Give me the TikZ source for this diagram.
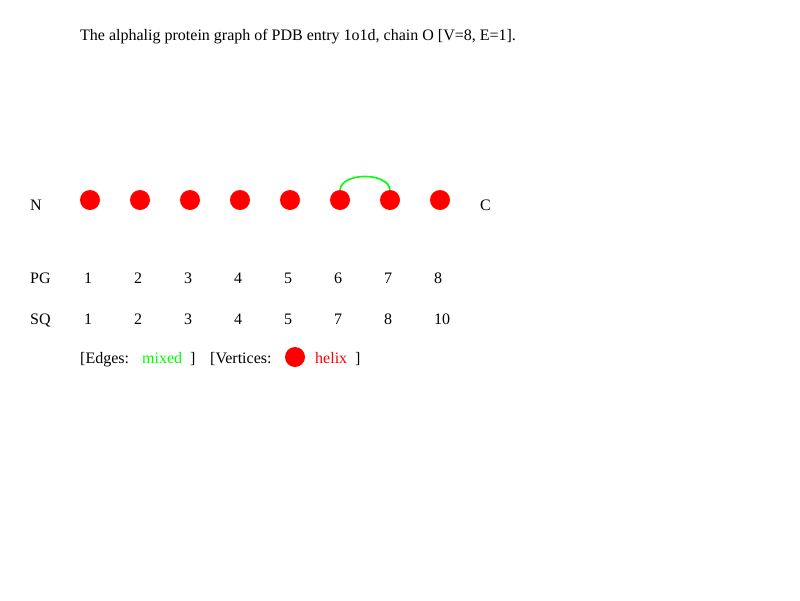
\documentclass[tikz,border=0pt]{standalone}
\usepackage{fontspec}
\setmainfont{Liberation Serif}
\begin{document}
\begin{tikzpicture}[x=1pt,y=-1pt,
  lbl/.style={anchor=base west,inner sep=0pt,font=\fontsize{16}{18}\selectfont},
  vert/.style={circle,fill=red,draw=none,minimum size=20pt,inner sep=0pt},
  edge/.style={draw={rgb,255:red,0;green,255;blue,0},line width=1.6pt}]
\useasboundingbox (0,0) rectangle (800,600);
\definecolor{grn}{RGB}{0,255,0}
\node[lbl] (title) at (80,40) {The alphalig protein graph of PDB entry 1o1d, chain O [V=8, E=1].};
\node[lbl] (N) at (30,210) {N};
\node[lbl] (C) at (480,210) {C};
\foreach \i in {1,...,8} {
  \node[vert] (v\i) at ({90+50*(\i-1)},200) {};
}
\draw[edge] (v6.north) .. controls (342,172) and (388,172) .. (v7.north);
\node[lbl] (PG) at (30,283) {PG};
\node[lbl] (SQ) at (30,324) {SQ};
\foreach \i/\s in {1/1,2/2,3/3,4/4,5/5,6/7,7/8,8/10} {
  \node[lbl] (pg\i) at ({84+50*(\i-1)},283) {\i};
  \node[lbl] (sq\i) at ({84+50*(\i-1)},324) {\s};
}
\node[lbl] (le1) at (80,363) {[Edges:};
\node[lbl,text=grn] (le2) at (142,363) {mixed};
\node[lbl] (le3) at (190,363) {]};
\node[lbl] (lv1) at (210,363) {[Vertices:};
\node[vert] (lvc) at (295,357) {};
\node[lbl,text=red] (lv2) at (315,363) {helix};
\node[lbl] (lv3) at (355,363) {]};
\end{tikzpicture}
\end{document}
